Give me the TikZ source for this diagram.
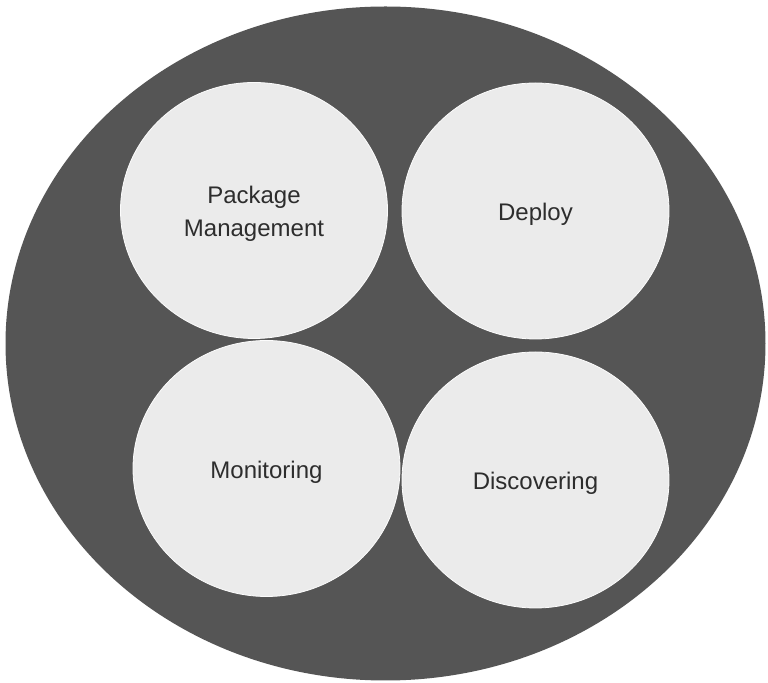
\documentclass[tikz,border=0pt]{standalone}
\usepackage{fontspec}
\setmainfont{Liberation Sans}
\usetikzlibrary{shapes.geometric}
\definecolor{outerdark}{RGB}{85,85,85}
\definecolor{innerlight}{RGB}{235,235,235}
\definecolor{txt}{RGB}{45,45,45}
\begin{document}
\begin{tikzpicture}[x=0.5pt,y=-0.5pt,
  outer/.style={ellipse,fill=outerdark,draw=none,inner sep=0pt,minimum width=760pt*0.5,minimum height=674pt*0.5},
  bubble/.style={ellipse,fill=innerlight,draw=white!85!innerlight,line width=0.4pt,inner sep=0pt,
     minimum width=267pt*0.5,minimum height=256pt*0.5},
  btext/.style={text=txt,font=\fontsize{12}{16.5}\selectfont,align=center,yshift=-1.8pt}]
\fill[white] (0,0) rectangle (768,683);
\useasboundingbox (0,0) rectangle (768,683);
\node[outer] (frame) at (385.5,343.5) {};
\node[bubble,label={[btext]center:Package\\Management}] (pkg) at (254,210.5) {};
\node[bubble,label={[btext]center:Deploy}] (dep) at (535.5,211) {};
\node[bubble,label={[btext]center:Monitoring}] (mon) at (266.5,468.5) {};
\node[bubble,label={[btext]center:Discovering}] (dis) at (535.5,480) {};
\end{tikzpicture}
\end{document}
